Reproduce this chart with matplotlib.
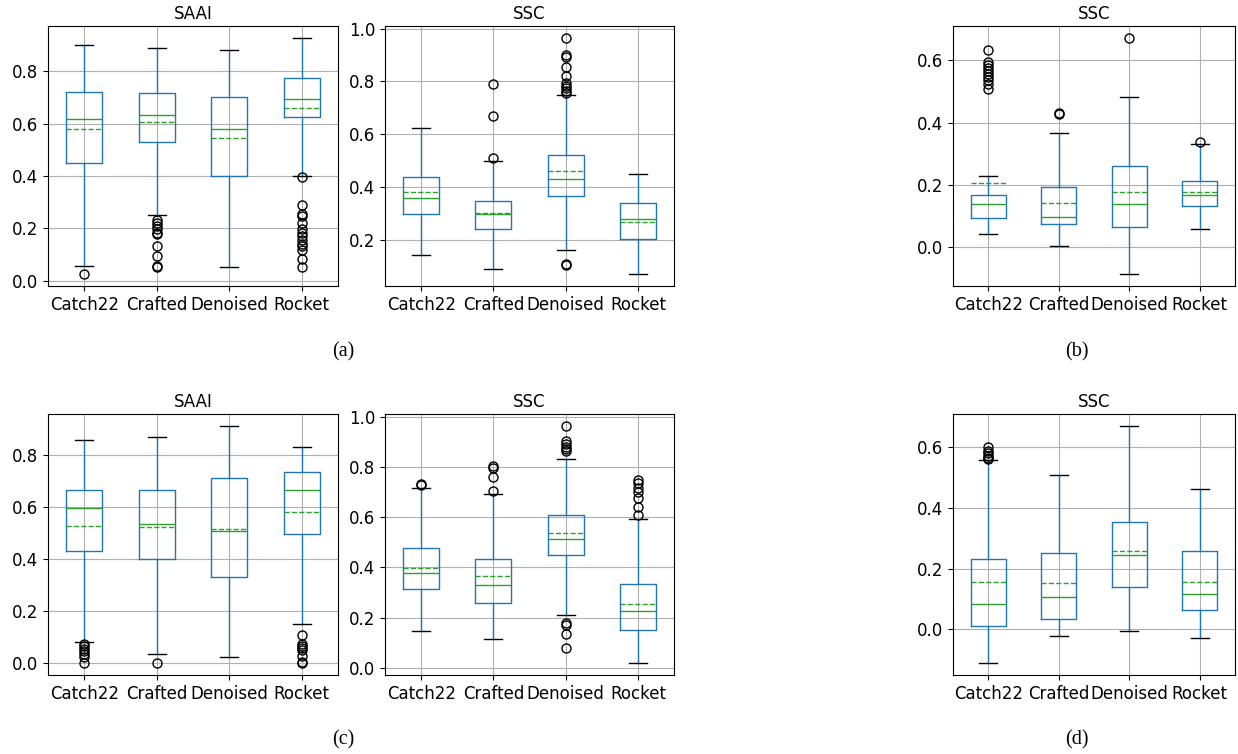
import matplotlib
matplotlib.use("Agg")
import matplotlib.pyplot as plt

methods = ["Catch22", "Crafted", "Denoised", "Rocket"]

# (a) SAAI
a1_lo = [0.055, 0.251, 0.052, 0.401]
a1_q1 = [0.449, 0.528, 0.401, 0.623]
a1_med = [0.616, 0.633, 0.578, 0.694]
a1_q3 = [0.719, 0.717, 0.703, 0.772]
a1_hi = [0.900, 0.888, 0.880, 0.927]
a1_mean = [0.578, 0.605, 0.543, 0.660]
a1_fliers = [[0.025],
             [0.233, 0.222, 0.210, 0.197, 0.184, 0.178, 0.134, 0.095, 0.057, 0.051],
             [],
             [0.397, 0.289, 0.254, 0.248, 0.220, 0.197, 0.184, 0.169, 0.156,
              0.142, 0.131, 0.118, 0.083, 0.051]]

# (a) SSC
a2_lo = [0.145, 0.093, 0.164, 0.072]
a2_q1 = [0.299, 0.244, 0.366, 0.206]
a2_med = [0.360, 0.300, 0.432, 0.279]
a2_q3 = [0.441, 0.348, 0.522, 0.341]
a2_hi = [0.625, 0.500, 0.750, 0.451]
a2_mean = [0.381, 0.303, 0.461, 0.269]
a2_fliers = [[],
             [0.790, 0.671, 0.510],
             [0.965, 0.900, 0.893, 0.856, 0.822, 0.795, 0.783, 0.774, 0.765,
              0.758, 0.111, 0.105],
             []]

# (b) SSC
b_lo = [0.042, 0.005, -0.087, 0.058]
b_q1 = [0.094, 0.074, 0.063, 0.133]
b_med = [0.139, 0.097, 0.138, 0.167]
b_q3 = [0.167, 0.193, 0.261, 0.212]
b_hi = [0.228, 0.367, 0.481, 0.330]
b_mean = [0.206, 0.141, 0.176, 0.178]
b_fliers = [[0.632, 0.595, 0.585, 0.575, 0.565, 0.555, 0.545, 0.535, 0.525, 0.508],
            [0.430, 0.428],
            [0.672],
            [0.336]]

# (c) SAAI
c1_lo = [0.083, 0.036, 0.025, 0.150]
c1_q1 = [0.432, 0.403, 0.332, 0.499]
c1_med = [0.597, 0.535, 0.508, 0.666]
c1_q3 = [0.668, 0.668, 0.714, 0.736]
c1_hi = [0.861, 0.872, 0.914, 0.834]
c1_mean = [0.530, 0.524, 0.517, 0.583]
c1_fliers = [[0.075, 0.065, 0.055, 0.045, 0.035, 0.025, 0.0],
             [0.0],
             [],
             [0.108, 0.072, 0.065, 0.057, 0.049, 0.028, 0.003, 0.0]]

# (c) SSC
c2_lo = [0.146, 0.116, 0.211, 0.019]
c2_q1 = [0.314, 0.260, 0.449, 0.152]
c2_med = [0.379, 0.329, 0.513, 0.228]
c2_q3 = [0.477, 0.435, 0.608, 0.333]
c2_hi = [0.715, 0.692, 0.833, 0.592]
c2_mean = [0.398, 0.365, 0.536, 0.256]
c2_fliers = [[0.733, 0.729],
             [0.805, 0.797, 0.760, 0.704],
             [0.964, 0.904, 0.890, 0.880, 0.870, 0.864, 0.180, 0.172, 0.136, 0.080],
             [0.750, 0.737, 0.717, 0.701, 0.677, 0.640, 0.610]]

# (d) SSC
d_lo = [-0.111, -0.020, -0.004, -0.028]
d_q1 = [0.013, 0.033, 0.139, 0.064]
d_med = [0.085, 0.107, 0.244, 0.117]
d_q3 = [0.233, 0.251, 0.355, 0.258]
d_hi = [0.559, 0.508, 0.671, 0.462]
d_mean = [0.158, 0.154, 0.260, 0.158]
d_fliers = [[0.600, 0.589, 0.580, 0.572, 0.565, 0.561], [], [], []]

panels = [
    ("SAAI", a1_lo, a1_q1, a1_med, a1_q3, a1_hi, a1_mean, a1_fliers),
    ("SSC", a2_lo, a2_q1, a2_med, a2_q3, a2_hi, a2_mean, a2_fliers),
    ("SSC", b_lo, b_q1, b_med, b_q3, b_hi, b_mean, b_fliers),
    ("SAAI", c1_lo, c1_q1, c1_med, c1_q3, c1_hi, c1_mean, c1_fliers),
    ("SSC", c2_lo, c2_q1, c2_med, c2_q3, c2_hi, c2_mean, c2_fliers),
    ("SSC", d_lo, d_q1, d_med, d_q3, d_hi, d_mean, d_fliers),
]

# axes boxes in pixels: left, top, right, bottom
W, H = 1238, 754
boxes = [(48, 26, 338, 286), (385, 26, 674, 286), (953, 26, 1235, 286),
         (48, 414, 338, 675), (385, 414, 674, 675), (953, 414, 1235, 675)]

fig = plt.figure(figsize=(W / 100, H / 100), dpi=100)

for (title, lo, q1, med, q3, hi, mean, fl), (l, t, r, b) in zip(panels, boxes):
    ax = fig.add_axes([l / W, 1 - b / H, (r - l) / W, (b - t) / H])
    stats = []
    for i, name in enumerate(methods):
        stats.append(dict(label=name, whislo=lo[i], q1=q1[i], med=med[i],
                          q3=q3[i], whishi=hi[i], mean=mean[i], fliers=fl[i]))
    ax.bxp(stats, showmeans=True, meanline=True, widths=0.5,
           boxprops=dict(color="C0"), whiskerprops=dict(color="C0"),
           capprops=dict(color="k"), medianprops=dict(color="C2"),
           meanprops=dict(color="C2", linestyle="--"),
           flierprops=dict(marker="o", markerfacecolor="none",
                           markeredgecolor="k", markersize=6.5))
    ax.grid(True)
    ax.set_axisbelow(True)
    ax.set_title(title, fontsize=12, pad=5)
    ax.tick_params(labelsize=12)
    ax.set_xlim(0.5, 4.5)
    ax.margins(y=0.05)

caps = [("(a)", 343, 352), ("(b)", 1077, 352), ("(c)", 343, 740), ("(d)", 1077, 740)]
for txt, x, y in caps:
    fig.text(x / W, 1 - y / H, txt, ha="center", va="center",
             family="Liberation Serif", fontsize=14.5)

fig.savefig("out.png", dpi=100)
